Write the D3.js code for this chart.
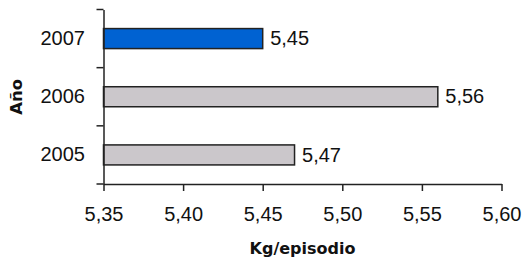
<!DOCTYPE html>
<html>
<head>
<meta charset="utf-8">
<script src="https://cdn.jsdelivr.net/npm/d3@7"></script>
<style>
  body { margin: 0; background: #fff; }
  svg { display: block; }
</style>
</head>
<body>
<svg></svg>
<script>
let width = 522, height = 263;

// data
let years = ["2007", "2006", "2005"];
let values = [5.45, 5.56, 5.47];
let barColors = ["#0062d2", "#cbc7cb", "#cbc7cb"];
let xTicks = [5.35, 5.40, 5.45, 5.50, 5.55, 5.60];
let xTitle = "Kg/episodio";
let yTitle = "Año";

let svg = d3.select("svg")
    .attr("width", width)
    .attr("height", height);

let plotLeft = 103.5, plotRight = 501.5, plotTop = 9.5, plotBottom = 184;

let x = d3.scaleLinear()
    .domain([5.35, 5.60])
    .range([plotLeft, plotRight]);

let y = d3.scaleBand()
    .domain(years)
    .range([plotTop, plotBottom])
    .paddingInner(0.656)
    .paddingOuter(0.328);

let comma = d => d3.format(".2f")(d).replace(".", ",");

// bars
svg.append("g")
    .selectAll("rect")
    .data(years)
    .enter()
    .append("rect")
    .attr("x", x(5.35))
    .attr("y", d => y(d))
    .attr("width", (d, i) => x(values[i]) - x(5.35))
    .attr("height", y.bandwidth())
    .attr("fill", (d, i) => barColors[i])
    .attr("stroke", "#222")
    .attr("stroke-width", 1.5);

// value labels
svg.append("g")
    .selectAll("text")
    .data(years)
    .enter()
    .append("text")
    .attr("x", (d, i) => x(values[i]) + 7.5)
    .attr("y", d => y(d) + y.bandwidth() / 2)
    .attr("dy", "0.33em")
    .attr("font-family", "Liberation Sans, Arial, sans-serif")
    .attr("font-size", 20)
    .attr("fill", "#111")
    .text((d, i) => comma(values[i]));

// x axis
let xAxis = svg.append("g")
    .attr("transform", `translate(0,${plotBottom})`)
    .call(d3.axisBottom(x).tickValues(xTicks).tickFormat(comma)
        .tickSize(7).tickSizeOuter(0).tickPadding(16));
xAxis.select(".domain").attr("stroke", "#222").attr("stroke-width", 1.5);
xAxis.selectAll(".tick line").attr("stroke", "#222").attr("stroke-width", 1.5);
xAxis.selectAll("text")
    .attr("font-family", "Liberation Sans, Arial, sans-serif")
    .attr("font-size", 20)
    .attr("fill", "#111");

// y axis: labels at band centres, ticks between categories
let yAxis = svg.append("g")
    .attr("transform", `translate(${plotLeft},0)`)
    .call(d3.axisLeft(y).tickSize(0).tickPadding(18.5));
yAxis.select(".domain").attr("stroke", "#222").attr("stroke-width", 1.5);
yAxis.selectAll("text")
    .attr("font-family", "Liberation Sans, Arial, sans-serif")
    .attr("font-size", 20)
    .attr("fill", "#111");

let bounds = d3.range(years.length + 1).map(i => plotTop + i * y.step());
svg.append("g")
    .selectAll("line")
    .data(bounds)
    .enter()
    .append("line")
    .attr("x1", plotLeft - 7)
    .attr("x2", plotLeft)
    .attr("y1", d => d)
    .attr("y2", d => d)
    .attr("stroke", "#222")
    .attr("stroke-width", 1.5);

// axis titles
svg.append("text")
    .attr("x", (plotLeft + plotRight) / 2)
    .attr("y", 254)
    .attr("text-anchor", "middle")
    .attr("font-family", "DejaVu Sans, sans-serif")
    .attr("font-weight", "bold")
    .attr("font-size", 16)
    .attr("fill", "#111")
    .text(xTitle);

svg.append("text")
    .attr("transform", `translate(21.5,${(plotTop + plotBottom) / 2}) rotate(-90)`)
    .attr("text-anchor", "middle")
    .attr("font-family", "DejaVu Sans, sans-serif")
    .attr("font-weight", "bold")
    .attr("font-size", 16.5)
    .attr("fill", "#111")
    .text(yTitle);
</script>
</body>
</html>
